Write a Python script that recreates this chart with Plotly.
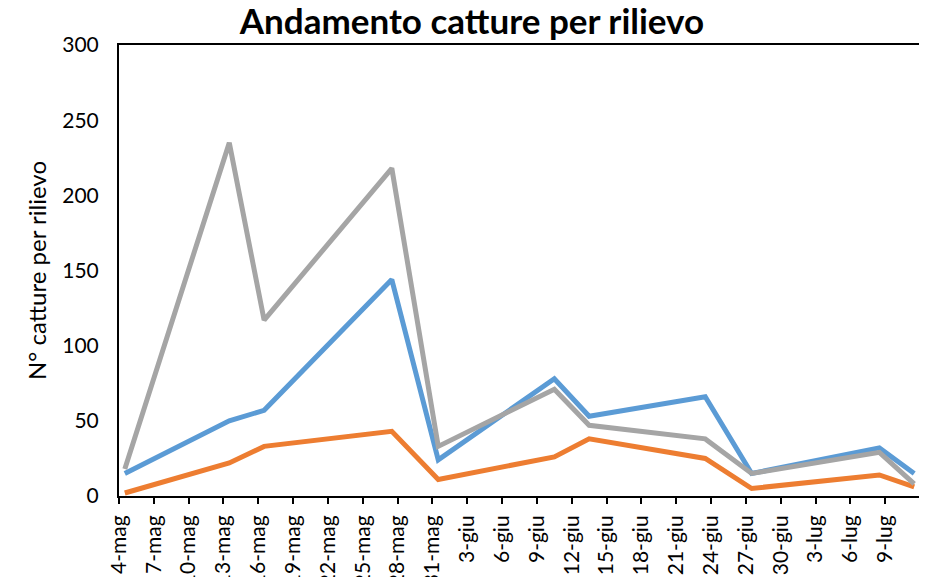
"""Andamento catture per rilievo - line chart."""

import pandas as pd
import plotly.graph_objects as go

# survey dates (year is arbitrary, only day/month matter)
dates = [
    '2023-05-04', '2023-05-13', '2023-05-16', '2023-05-27', '2023-05-31',
    '2023-06-10', '2023-06-13', '2023-06-23', '2023-06-27', '2023-07-08',
    '2023-07-11',
]

serie_blu = [15, 50, 57, 144, 24, 78, 53, 66, 15, 32, 15]
serie_arancio = [2, 22, 33, 43, 11, 26, 38, 25, 5, 14, 6]
serie_grigia = [18, 235, 117, 218, 33, 71, 47, 38, 15, 29, 8]

tick_labels = [
    '4-mag', '7-mag', '10-mag', '13-mag', '16-mag', '19-mag', '22-mag',
    '25-mag', '28-mag', '31-mag', '3-giu', '6-giu', '9-giu', '12-giu',
    '15-giu', '18-giu', '21-giu', '24-giu', '27-giu', '30-giu', '3-lug',
    '6-lug', '9-lug',
]

FONT = 'Lato'

# Excel date axis places each day in the middle of its slot
x_pos = pd.to_datetime(dates) + pd.Timedelta(hours=12)
tick_vals = pd.date_range('2023-05-04', periods=len(tick_labels), freq='3D')

fig = go.Figure()
for values, color in [
    (serie_blu, '#5B9BD5'),
    (serie_arancio, '#ED7D31'),
    (serie_grigia, '#A5A5A5'),
]:
    fig.add_trace(
        go.Scatter(
            x=x_pos,
            y=values,
            mode='lines',
            line=dict(color=color, width=5),
            showlegend=False,
        )
    )

# page body has an 8px margin, so the figure is shrunk by that amount
fig.update_layout(
    width=919,
    height=569,
    margin=dict(l=111, r=7, t=37, b=81, autoexpand=False),
    paper_bgcolor='white',
    plot_bgcolor='white',
    font=dict(family=FONT, size=21, color='black'),
    title=dict(
        text='<b>Andamento catture per rilievo</b>',
        font=dict(family=FONT, size=35, color='black'),
        x=464 / 919,
        xanchor='center',
        xref='container',
        yref='container',
        y=1 - 14 / 569,
        yanchor='middle',
    ),
)

fig.update_xaxes(
    type='date',
    range=['2023-05-04', '2023-07-12'],
    tickvals=tick_vals,
    ticktext=tick_labels,
    tickangle=-90,
    ticks='outside',
    ticklen=6,
    tickwidth=1.5,
    tickcolor='black',
    ticklabelstandoff=3,
    showline=True,
    linecolor='black',
    linewidth=2,
    mirror=True,
    showgrid=False,
    zeroline=False,
    automargin=False,
    tickfont=dict(family=FONT, size=21),
)

fig.update_yaxes(
    range=[0, 300],
    tickvals=[0, 50, 100, 150, 200, 250, 300],
    ticks='',
    ticklabelstandoff=14,
    showline=True,
    linecolor='black',
    linewidth=2,
    mirror=True,
    showgrid=False,
    zeroline=False,
    automargin=False,
    title=dict(text='N° catture per rilievo', font=dict(family=FONT, size=24), standoff=9),
    tickfont=dict(family=FONT, size=21),
)

fig.write_html('out.html')
